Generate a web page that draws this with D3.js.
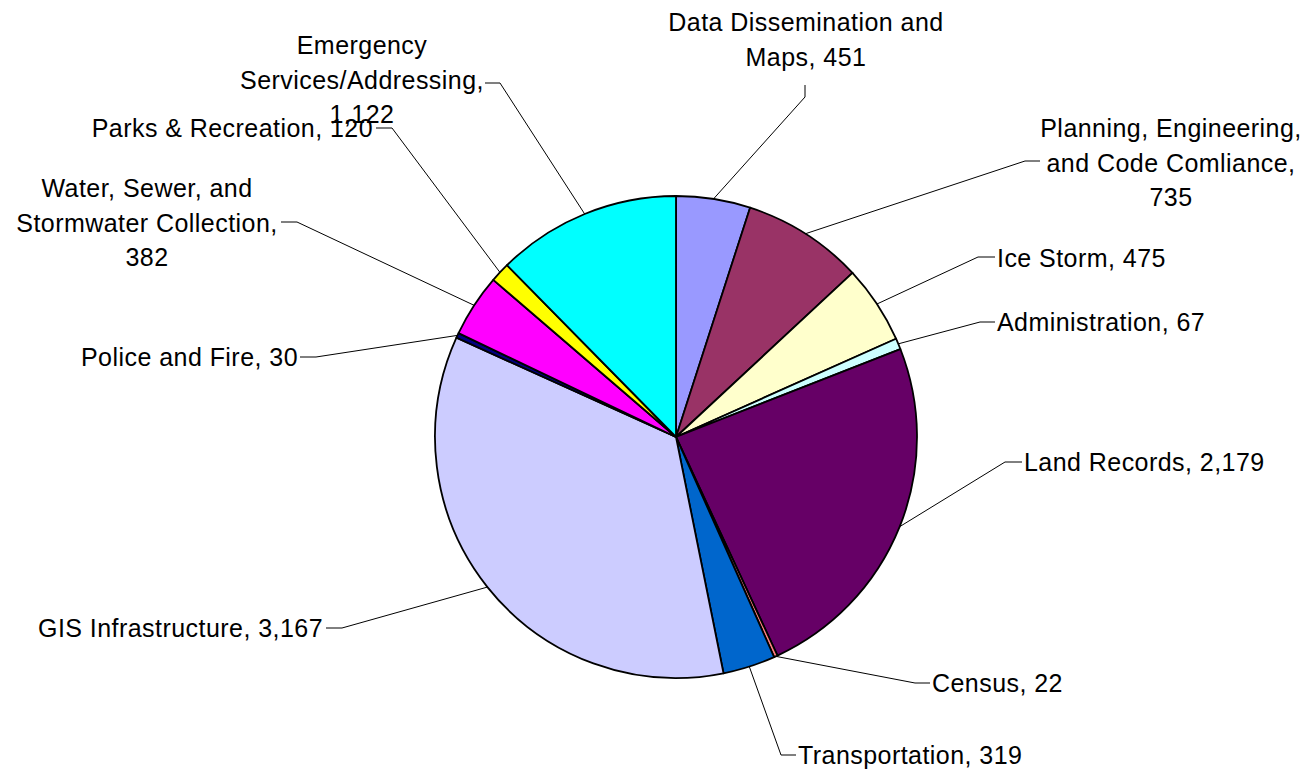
<!DOCTYPE html>
<html>
<head>
<meta charset="utf-8">
<script src="https://cdn.jsdelivr.net/npm/d3@7/dist/d3.min.js"></script>
<style>
  html, body { margin: 0; padding: 0; background: #fff; }
  svg { display: block; }
  text { font-family: "Liberation Sans", Arial, sans-serif; font-size: 25px; letter-spacing: 0.45px; fill: #000; }
</style>
</head>
<body>
<svg id="chart" width="1306" height="773"></svg>
<script>
// ---- Data ----
const categories = [
  "Data Dissemination and Maps",
  "Planning, Engineering, and Code Comliance",
  "Ice Storm",
  "Administration",
  "Land Records",
  "Census",
  "Transportation",
  "GIS Infrastructure",
  "Police and Fire",
  "Water, Sewer, and Stormwater Collection",
  "Parks & Recreation",
  "Emergency Services/Addressing"
];
const values = [451, 735, 475, 67, 2179, 22, 319, 3167, 30, 382, 120, 1122];
const colors = ["#9999FF", "#993366", "#FFFFCC", "#CCFFFF", "#660066", "#FF8080",
                "#0066CC", "#CCCCFF", "#000080", "#FF00FF", "#FFFF00", "#00FFFF"];
// label text lines (as wrapped in the original)
const labelLines = [
  ["Data Dissemination and", "Maps, 451"],
  ["Planning, Engineering,", "and Code Comliance,", "735"],
  ["Ice Storm, 475"],
  ["Administration, 67"],
  ["Land Records, 2,179"],
  ["Census, 22"],
  ["Transportation, 319"],
  ["GIS Infrastructure, 3,167"],
  ["Police and Fire, 30"],
  ["Water, Sewer, and", "Stormwater Collection,", "382"],
  ["Parks & Recreation, 120"],
  ["Emergency", "Services/Addressing,", "1,122"]
];

// ---- Layout (label placement) ----
const cx = 676, cy = 437, R = 241, lineH = 34.5;
const layout = [
  {elbow:[805,97],  tip:[805,85],  tx:806,  ty:22,  anchor:"middle"},
  {elbow:[1025,161],tip:[1040,161],tx:1171, ty:128, anchor:"middle"},
  {elbow:[978,257], tip:[995,257], tx:997,  ty:258, anchor:"start"},
  {elbow:[980,322], tip:[995,322], tx:997,  ty:322, anchor:"start"},
  {elbow:[1005,462],tip:[1022,462],tx:1024, ty:462, anchor:"start"},
  {elbow:[915,683], tip:[930,683], tx:932,  ty:683, anchor:"start"},
  {elbow:[781,755], tip:[796,755], tx:798,  ty:755, anchor:"start"},
  {elbow:[342,628], tip:[326,628], tx:323,  ty:628, anchor:"end"},
  {elbow:[316,357], tip:[300,357], tx:298,  ty:357, anchor:"end"},
  {elbow:[297,222], tip:[281,222], tx:147,  ty:188, anchor:"middle"},
  {elbow:[392,128], tip:[376,128], tx:373,  ty:128, anchor:"end"},
  {elbow:[500,83],  tip:[485,83],  tx:362,  ty:45,  anchor:"middle"}
];

const svg = d3.select("#chart");
const data = categories.map((c, i) => ({name: c, value: values[i], color: colors[i], lines: labelLines[i], lay: layout[i]}));

const pie = d3.pie().value(d => d.value).sort(null);
const arcs = pie(data);
const arc = d3.arc().innerRadius(0).outerRadius(R);

const g = svg.append("g").attr("transform", `translate(${cx},${cy})`);
g.selectAll("path.slice").data(arcs).join("path")
  .attr("class", "slice")
  .attr("d", arc)
  .attr("fill", d => d.data.color)
  .attr("stroke", "#000")
  .attr("stroke-width", 1.8)
  .attr("stroke-linejoin", "round");

// leader lines
const svgLeader = svg.append("g");
svgLeader.selectAll("path.leader").data(arcs).join("path")
  .attr("class", "leader")
  .attr("fill", "none")
  .attr("stroke", "#000")
  .attr("stroke-width", 1)
  .attr("d", d => {
    const m = (d.startAngle + d.endAngle) / 2;
    const p0 = [cx + R * Math.sin(m), cy - R * Math.cos(m)];
    const L = d.data.lay;
    return d3.line()([p0, L.elbow, L.tip]);
  });

// labels
const labels = svg.selectAll("text.lbl").data(arcs).join("text")
  .attr("class", "lbl")
  .attr("text-anchor", d => d.data.lay.anchor);
labels.each(function(d) {
  const t = d3.select(this);
  d.data.lines.forEach((ln, j) => {
    t.append("tspan")
      .attr("x", d.data.lay.tx)
      .attr("y", d.data.lay.ty + j * lineH + 9)
      .text(ln);
  });
});
</script>
</body>
</html>
